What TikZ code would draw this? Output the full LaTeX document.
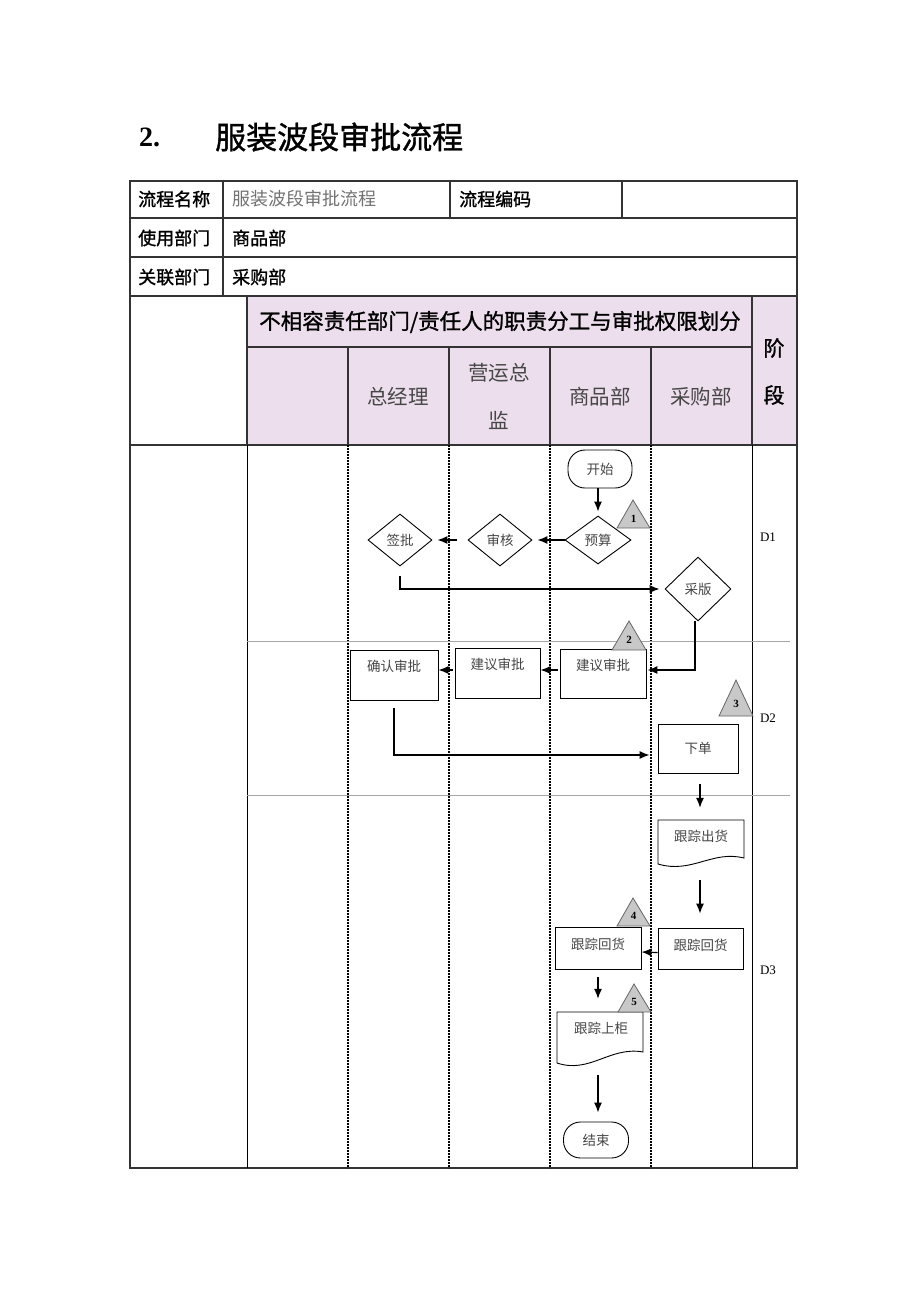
\documentclass[tikz,border=0pt]{standalone}
\usepackage{fontspec}
\setmainfont{Noto Sans CJK SC}
\newfontfamily\cjkmed{Noto Sans CJK SC}[FakeBold=1.2]
\newfontfamily\tnr{Liberation Serif}
\usetikzlibrary{shapes.geometric,arrows.meta,calc}
\definecolor{hdr}{RGB}{236,222,236}
\definecolor{trif}{RGB}{200,200,200}
\definecolor{txtg}{RGB}{70,70,70}
\begin{document}
\begin{tikzpicture}[x=1pt,y=-1pt,
  tbl/.style={line width=1.5pt, black!80},
  lane/.style={line width=1.6pt, dash pattern=on 1.6pt off 1.4pt},
  stageline/.style={line width=0.8pt, black!35},
  cell/.style={font=\cjkmed\fontsize{18}{20}\selectfont, anchor=west, inner sep=0pt},
  colh/.style={font=\fontsize{20.5}{22}\selectfont, text=txtg, inner sep=0pt},
  fl/.style={draw, line width=0.9pt, font=\fontsize{13.5}{15}\selectfont, text=txtg, inner sep=0pt},
  dia/.style={fl, diamond},
  boxn/.style={fl, rectangle},
  term/.style={fl, rectangle, rounded corners=17pt},
  doctxt/.style={font=\fontsize{13.5}{15}\selectfont, text=txtg, inner sep=0pt},
  arr/.style={-{Latex[length=10pt,width=8pt]}, line width=1.2pt},
  trig/.style={fill=trif, draw=black!60, line width=0.8pt},
  trin/.style={font=\tnr\bfseries\fontsize{11}{12}\selectfont, inner sep=0pt},
  stg/.style={font=\tnr\fontsize{13}{14}\selectfont, inner sep=0pt}
]
\useasboundingbox (0,0) rectangle (920,1302);
\fill[white] (0,0) rectangle (920,1302);

% title
\node[font=\tnr\bfseries\fontsize{28}{30}\selectfont, anchor=west, inner sep=0pt] (tnum) at (139,137) {2.};
\node[font=\cjkmed\fontsize{31}{33}\selectfont, anchor=west, inner sep=0pt] (ttl) at (215,137) {服装波段审批流程};

% header fill
\fill[hdr] (247,296) rectangle (797,445);

% table lines
\draw[tbl] (130,181) rectangle (797,1168);
\draw[tbl] (130,218) -- (797,218);
\draw[tbl] (130,257) -- (797,257);
\draw[tbl] (130,296) -- (797,296);
\draw[tbl] (130,445) -- (797,445);
\draw[tbl] (223,181) -- (223,296);
\draw[tbl] (450,181) -- (450,218);
\draw[tbl] (622,181) -- (622,218);
\draw[tbl] (247,296) -- (247,445);
\draw[tbl] (752,296) -- (752,445);
\draw[tbl] (247,347) -- (752,347);
\foreach \x in {348,449,550,651} \draw[tbl] (\x,347) -- (\x,445);
\draw[line width=0.9pt] (247,445) -- (247,1168);
\draw[line width=0.9pt] (752,445) -- (752,1168);
\foreach \x in {348,449,550,651} \draw[lane] (\x,445) -- (\x,1168);
\draw[stageline] (247,641) -- (790,641);
\draw[stageline] (247,795) -- (790,795);

% table texts
\node[cell] (c1) at (138,199) {流程名称};
\node[cell, font=\fontsize{18}{20}\selectfont, text=black!55] (c2) at (232,199) {服装波段审批流程};
\node[cell] (c3) at (459,199) {流程编码};
\node[cell] (c4) at (138,238) {使用部门};
\node[cell] (c5) at (232,238) {商品部};
\node[cell] (c6) at (138,277) {关联部门};
\node[cell] (c7) at (232,277) {采购部};
\node[font=\cjkmed\fontsize{21.5}{23}\selectfont, inner sep=0pt] (hd) at (500,322) {不相容责任部门/责任人的职责分工与审批权限划分};
\node[colh] (h1) at (398,397) {总经理};
\node[colh] (h2a) at (499,373) {营运总};
\node[colh] (h2b) at (499,420) {监};
\node[colh] (h3) at (600,397) {商品部};
\node[colh] (h4) at (701,397) {采购部};
\node[font=\cjkmed\fontsize{21}{23}\selectfont, inner sep=0pt] (s1) at (774,348) {阶};
\node[font=\cjkmed\fontsize{21}{23}\selectfont, inner sep=0pt] (s2) at (774,395) {段};

% stage labels
\node[stg] (d1) at (768,537) {D1};
\node[stg] (d2) at (768,718) {D2};
\node[stg] (d3) at (768,970) {D3};

% flow nodes
\node[term, minimum width=64pt, minimum height=38pt] (start) at (600,469) {开始};
\node[dia, minimum width=66pt, minimum height=48pt] (ys) at (598,540) {预算};
\node[dia, minimum width=64pt, minimum height=52pt] (sh) at (500,540) {审核};
\node[dia, minimum width=64pt, minimum height=52pt] (qp) at (400,540) {签批};
\node[dia, minimum width=66pt, minimum height=64pt] (cb) at (698,589) {采版};
\node[boxn, minimum width=86pt, minimum height=49pt, text depth=19pt] (jy1) at (603,674) {建议审批};
\node[boxn, minimum width=85pt, minimum height=50pt, text depth=19pt] (jy2) at (497.5,673) {建议审批};
\node[boxn, minimum width=88pt, minimum height=50pt, text depth=19pt] (qr) at (394,675) {确认审批};
\node[boxn, minimum width=80pt, minimum height=49pt] (xd) at (698,748.5) {下单};
\node[boxn, minimum width=85pt, minimum height=41pt, text depth=8pt] (hh1) at (700.5,948.5) {跟踪回货};
\node[boxn, minimum width=86pt, minimum height=42pt, text depth=8pt] (hh2) at (598,948) {跟踪回货};
\node[term, minimum width=65pt, minimum height=36pt] (end) at (596,1140) {结束};

% document shapes
\node[minimum width=86pt, minimum height=48pt, inner sep=0pt] (ch) at (701,844) {};
\node[doctxt] (cht) at (701,836) {跟踪出货};
\draw[line width=0.9pt] (658,820) -- (744,820) -- (744,858) .. controls (712,850) and (692,874) .. (658,864) -- cycle;
\node[minimum width=86pt, minimum height=53pt, inner sep=0pt] (sg) at (600,1038.5) {};
\node[doctxt] (sgt) at (601,1028) {跟踪上柜};
\draw[line width=0.9pt] (557,1012) -- (643,1012) -- (643,1052) .. controls (610,1046) and (590,1074) .. (557,1063) -- cycle;

% triangles
\draw[trig] (617,528) -- (650,528) -- (633,500) -- cycle;
\node[trin] (t1) at (633.5,519) {1};
\draw[trig] (612,650) -- (646,650) -- (629,621) -- cycle;
\node[trin] (t2) at (629,640) {2};
\draw[trig] (719,716) -- (753,716) -- (736,680) -- cycle;
\node[trin] (t3) at (736,704) {3};
\draw[trig] (617,926) -- (650,926) -- (633,898) -- cycle;
\node[trin] (t4) at (633.5,916) {4};
\draw[trig] (618,1012) -- (651,1012) -- (634,984) -- cycle;
\node[trin] (t5) at (634,1002) {5};

% connectors
\draw[arr] ($(start.south)+(-2,0)$) -- ($(ys.north)+(0,-4)$);
\draw[arr, shorten >=5pt] (ys.west) -- (sh.east);
\draw[arr, shorten <=11pt, shorten >=5pt] (sh.west) -- (qp.east);
\draw[arr, shorten <=10pt, shorten >=5pt] (qp.south) |- (cb.west);
\draw[arr, shorten >=1pt] ($(cb.south)+(-3,0)$) |- ($(jy1.east)+(0,-4)$);
\draw[arr, shorten <=2pt] ($(jy1.west)+(0,-4)$) -- ($(jy2.east)+(0,-3)$);
\draw[arr, shorten <=2pt] ($(jy2.west)+(0,-3)$) -- ($(qr.east)+(0,-5)$);
\draw[arr, shorten <=8pt, shorten >=8pt] (qr.south) |- ($(xd.west)+(0,6.5)$);
\draw[arr, shorten <=11pt, shorten >=12pt] ($(xd.south)+(2,0)$) -- ($(ch.north)+(-1,0)$);
\draw[arr, shorten <=12pt, shorten >=14pt] ($(ch.south)+(-1,0)$) -- ($(hh1.north)+(-0.5,0)$);
\draw[arr] ($(hh1.west)+(0,4)$) -- ($(hh2.east)+(0,4)$);
\draw[arr, shorten <=8pt, shorten >=13pt] (hh2.south) -- ($(sg.north)+(-2,0)$);
\draw[arr, shorten <=10pt, shorten >=9pt] ($(sg.south)+(-2,0)$) -- ($(end.north)+(2,0)$);
\end{tikzpicture}
\end{document}
